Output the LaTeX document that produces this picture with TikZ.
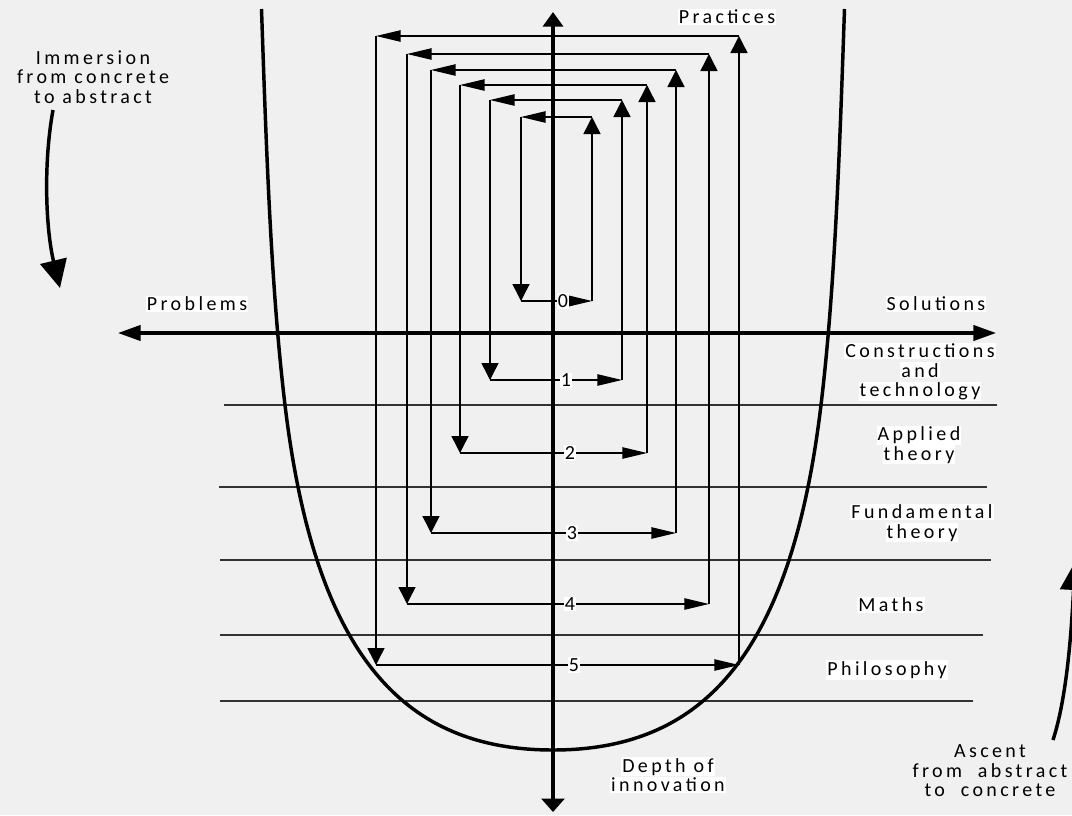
\documentclass[tikz,border=0pt]{standalone}
\usepackage{fontspec}
\setmainfont{Carlito}[LetterSpace=17]
\usetikzlibrary{arrows.meta}
\definecolor{paper}{RGB}{240,240,240}
\newcommand\wbox[1]{{\setlength{\fboxsep}{0.8pt}\colorbox{white}{#1}}}
\begin{document}
\begin{tikzpicture}[x=0.75pt,y=-0.75pt,
  txt/.style={font=\fontsize{15}{14.6}\selectfont, inner sep=0pt, align=center},
  wtxt/.style={txt, fill=white, inner sep=0.8pt},
  rule/.style={line width=1.1pt, draw=black!80},
  loopline/.style={line width=1.1pt},
  hhead/.style={-{Triangle[length=18.5pt,width=8.5pt]}},
  vhead/.style={-{Triangle[length=12.75pt,width=12.75pt]}},
  bigarrow/.style={line width=2.6pt, -{Triangle[length=21pt,width=20pt]}},
]
\fill[paper] (0,0) rectangle (1072,815);
\useasboundingbox (0,0) rectangle (1072,815);

% level rules
\draw[rule] (224,405) -- (997,405);
\draw[rule] (219,487) -- (987,487);
\draw[rule] (220,560) -- (991,560);
\draw[rule] (220,635) -- (983,635);
\draw[rule] (220,701) -- (973,701);

% the U-shaped envelope
\draw[line width=2.6pt] (261.5,9) .. controls (266,139) and (270.6,285) .. (285,405)
  .. controls (315,655) and (403,750) .. (553,750)
  .. controls (703,750) and (791,655) .. (821,405)
  .. controls (835.4,285) and (840,139) .. (844.5,9);

% axes
\coordinate (vtop) at (553,12);
\coordinate (vbot) at (553,812);
\coordinate (hleft) at (118,333);
\coordinate (hright) at (996,333);
\draw[line width=3pt, {Triangle[length=11pt,width=15pt]}-{Triangle[length=10pt,width=17pt]}] (vtop) -- (vbot);
\draw[line width=2.3pt, {Triangle[length=17pt,width=11.5pt]}-{Triangle[length=17pt,width=11.5pt]}] (hleft) -- (hright);

% nested innovation loops
\foreach \k/\L/\R/\T/\B/\nx in {0/521/592/117/301/563, 1/490/622/100/380/566,
    2/460/647/85/453/570, 3/431/676/70/533/572, 4/407/709/54/604/570,
    5/376/739/36/665/574}{
  \coordinate (tl\k) at (\L,\T);
  \coordinate (tr\k) at (\R,\T);
  \coordinate (bl\k) at (\L,\B);
  \coordinate (br\k) at (\R,\B);
  \draw[loopline,vhead] (br\k) -- (tr\k);
  \draw[loopline,hhead] (tr\k) -- (tl\k);
  \draw[loopline,vhead] (tl\k) -- (bl\k);
  \draw[loopline,hhead] (bl\k) -- (br\k);
  \node[wtxt] (n\k) at (\nx,\B) {\k};
}

% side arrows
\coordinate (imA) at (53,110);
\coordinate (imB) at (60,288);
\draw[bigarrow] (imA) .. controls (43,165) and (46,230) .. (imB);
\coordinate (asA) at (1053,740);
\coordinate (asB) at (1075,562);
\draw[bigarrow] (asA) .. controls (1066,700) and (1071,640) .. (asB);

% labels
\node[wtxt] (practices) at (727,17) {Practices};
\node[wtxt] (problems) at (197,304) {Problems};
\node[wtxt] (solutions) at (936,304) {Solutions};
\node[txt] (immersion) at (93,77) {\fontsize{15}{13.9}\selectfont Immersion\\from concrete\\to abstract};
\node[txt] (ascent) at (990,771) {\fontsize{15}{13.9}\selectfont Ascent\\from\ \ abstract\\to\ \ concrete};
\node[txt] (constr) at (920,372) {\wbox{Constructions}\\\wbox{and}\\\wbox{technology}};
\node[txt] (applied) at (919,445) {\fontsize{15}{17.25}\selectfont \wbox{Applied}\\\wbox{theory}};
\node[txt] (fund) at (922,523) {\fontsize{15}{17.25}\selectfont \wbox{Fundamental}\\\wbox{theory}};
\node[wtxt] (maths) at (891,605) {Maths};
\node[wtxt] (philo) at (887,670) {Philosophy};
\node[txt] (depth) at (668,775) {\fontsize{15}{17.25}\selectfont \wbox{Depth of}\\\wbox{innovation}};
\end{tikzpicture}
\end{document}
